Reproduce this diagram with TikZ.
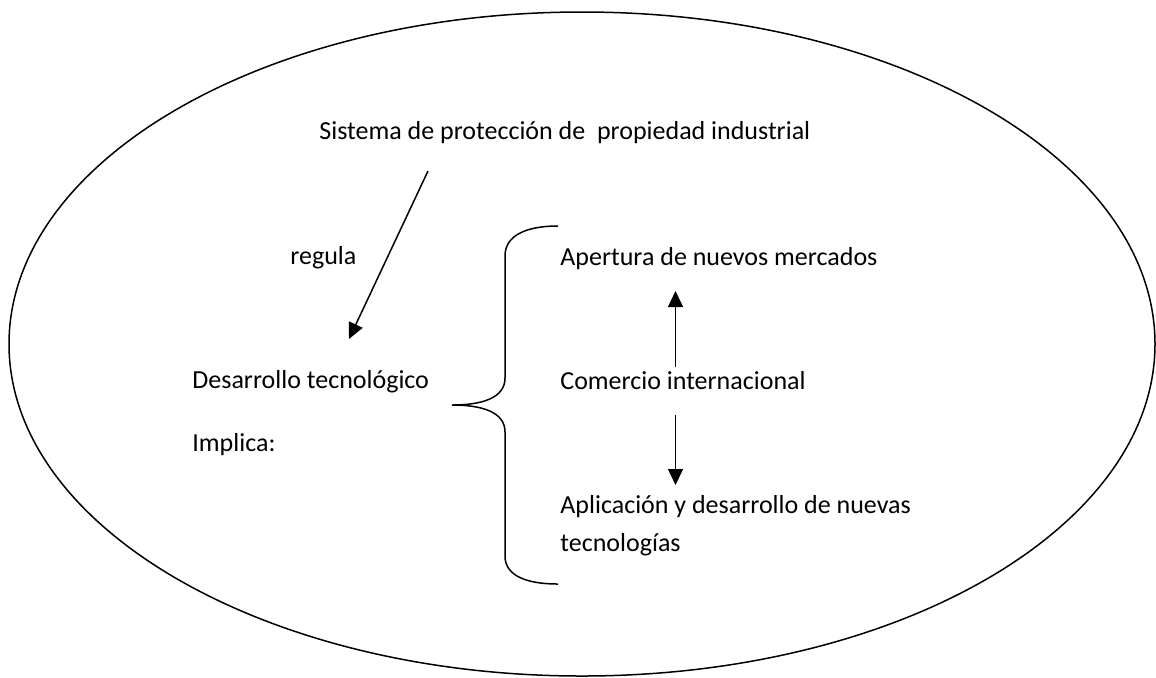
\documentclass[tikz,border=0pt]{standalone}
\usepackage{fontspec}
\setmainfont{Carlito}
\usetikzlibrary{arrows.meta}
\tikzset{
    txt/.style={anchor=base west, inner sep=0pt, font=\fontsize{13pt}{19.4pt}\selectfont},
    arr/.style={-{Triangle[width=7.5pt,length=8pt]}, line width=0.75pt}
}
\begin{document}
\begin{tikzpicture}[x=0.5pt,y=-0.5pt]
        \useasboundingbox (0,0) rectangle (1156,677);
        \draw[line width=0.75pt] (582,344) ellipse [x radius=573, y radius=332];
        \node[txt] (sis) at (319,139) {Sistema de protección de \ propiedad industrial};
        \node[txt] (reg) at (290,264) {regula};
        \node[txt] (des) at (192,388) {Desarrollo tecnológico};
        \node[txt] (imp) at (192,451) {Implica:};
        \node[txt] (ape) at (560,265) {Apertura de nuevos mercados};
        \node[txt] (com) at (560,389) {Comercio internacional};
        \node[txt] (apl) at (560,513) {Aplicación y desarrollo de nuevas};
        \node[txt] (tec) at (560,551) {tecnologías};
        \coordinate (S) at (428,171);
        \coordinate (D) at (349,339);
        \coordinate (CU) at (675.5,367);
        \coordinate (CA) at (675.5,291);
        \coordinate (CD) at (675.5,415);
        \coordinate (CB) at (675.5,485);
        \draw[arr] (S) -- (D);
        \draw[arr] (CU) -- (CA);
        \draw[arr] (CD) -- (CB);
        \draw[line width=0.75pt] (558,226) .. controls (525,226) and (505,236) .. (505,256) -- (505,378)
            .. controls (505,398) and (482,405) .. (452,405) .. controls (482,405) and (505,412) .. (505,432)
            -- (505,556) .. controls (505,575) and (525,584) .. (558,584);
\end{tikzpicture}
\end{document}
